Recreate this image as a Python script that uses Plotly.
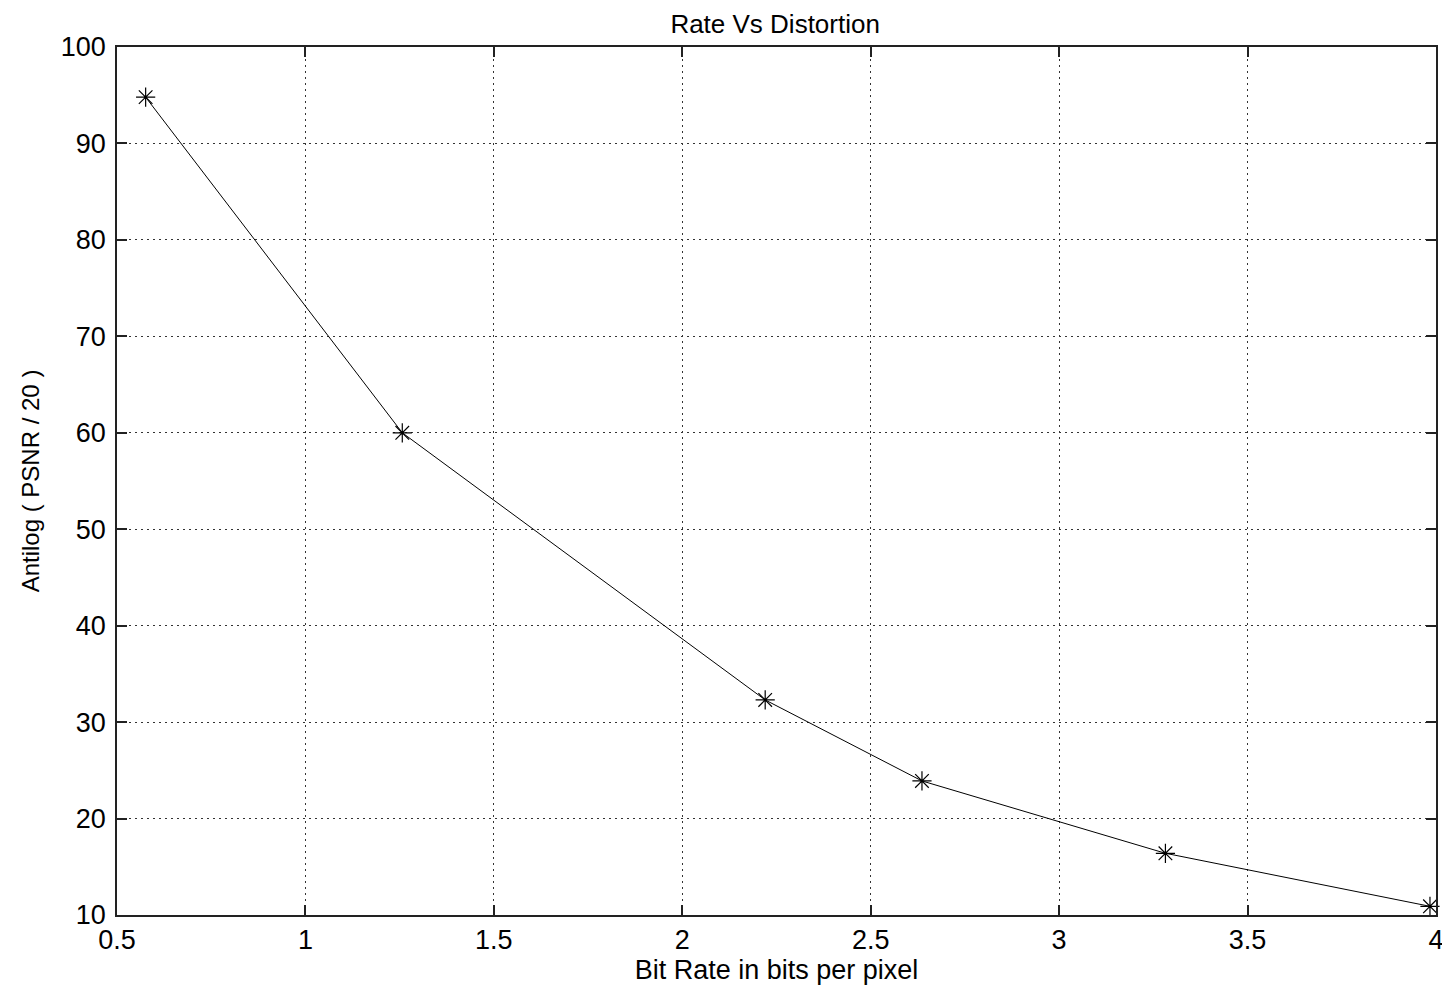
import plotly.graph_objects as go

bit_rate = [0.576, 1.257, 2.22, 2.636, 3.282, 3.984]
antilog_psnr = [94.8, 60.0, 32.3, 23.9, 16.4, 10.9]

x_ticks = [0.5, 1, 1.5, 2, 2.5, 3, 3.5, 4]
x_tick_labels = ["0.5", "1", "1.5", "2", "2.5", "3", "3.5", "4"]
y_ticks = [10, 20, 30, 40, 50, 60, 70, 80, 90, 100]

FONT = "Liberation Sans, Arial"

fig = go.Figure()
fig.add_trace(go.Scatter(
    x=bit_rate, y=antilog_psnr, mode="lines+markers",
    line=dict(color="black", width=1),
    marker=dict(symbol="asterisk-open", size=16, color="black", line=dict(width=1.2, color="black")),
    showlegend=False, cliponaxis=False,
))

axis_common = dict(
    automargin=False,
    showline=True, linecolor="#222", linewidth=1.5, mirror="ticks",
    ticks="inside", ticklen=10, tickcolor="#222", tickwidth=1.5,
    showgrid=True, gridcolor="#333", griddash="2px,4px", gridwidth=1,
    zeroline=False, tickfont=dict(family=FONT, size=27, color="black"),
)

fig.update_xaxes(range=[0.5, 4], tickvals=x_ticks, ticktext=x_tick_labels,
                 title=dict(text="Bit Rate in bits per pixel", font=dict(family=FONT, size=27, color="black"), standoff=2),
                 **axis_common)
fig.update_yaxes(range=[10, 100], tickvals=y_ticks, ticklabelstandoff=4,
                 title=dict(text="Antilog ( PSNR / 20 )", font=dict(family=FONT, size=24, color="black"), standoff=14),
                 **axis_common)

fig.update_layout(
    width=1442, height=978,
    margin=dict(l=109, r=14, t=39, b=71),
    paper_bgcolor="white", plot_bgcolor="white",
    title=dict(text="Rate Vs Distortion", x=0.532, xanchor="center", y=0.993, yanchor="top",
               pad=dict(t=0, b=0), font=dict(family=FONT, size=26, color="black")),
)

fig.write_html("out.html")
